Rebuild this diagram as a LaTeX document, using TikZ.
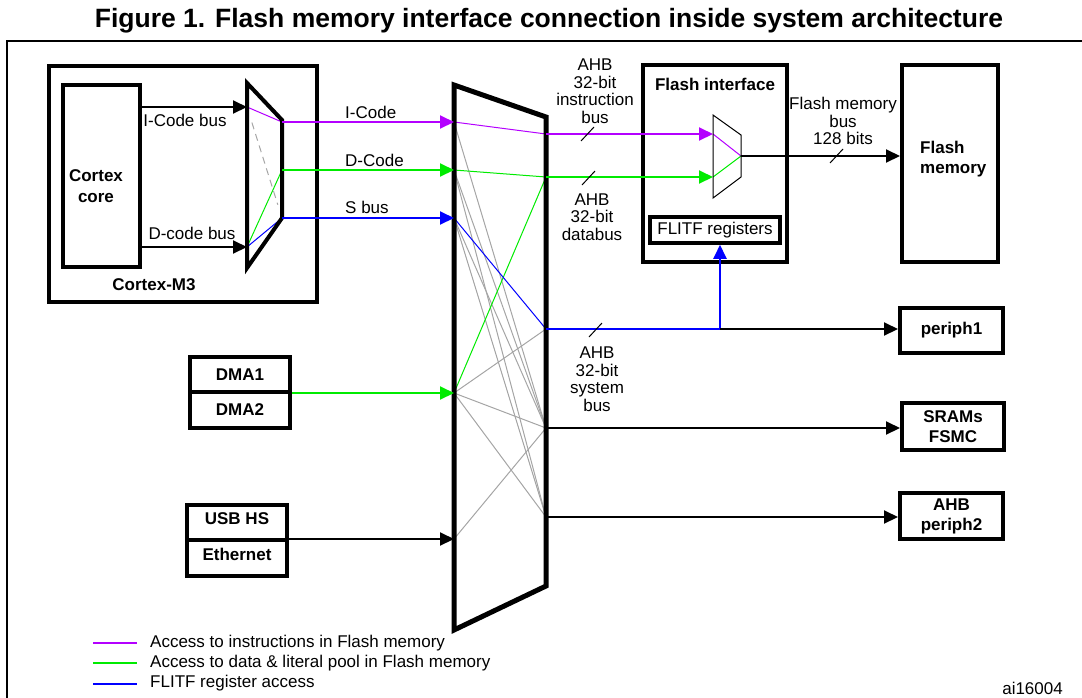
\documentclass[tikz,border=0pt]{standalone}
\usepackage{fontspec}
\setmainfont{Liberation Sans}
\usetikzlibrary{arrows.meta,calc}
\definecolor{ipurple}{RGB}{180,0,255}
\definecolor{dgreen}{RGB}{0,235,0}
\definecolor{fblue}{RGB}{0,0,255}
\definecolor{xgray}{RGB}{165,165,165}
\begin{document}
\begin{tikzpicture}[x=1pt,y=-1pt,
  lbl/.style={font=\fontsize{17}{17.5}\selectfont, inner sep=0pt, align=center},
  blbl/.style={font=\fontsize{17}{20.5}\selectfont\bfseries, inner sep=0pt, align=center},
  box/.style={draw, line width=4pt, inner sep=0pt, font=\fontsize{17}{20}\selectfont\bfseries, align=center},
  tip/.style={-{Triangle[length=14pt,width=13pt]}},
  bus/.style={line width=2pt, tip},
  thin/.style={line width=1pt},
  slash/.style={line width=1pt}]
\useasboundingbox (0,0) rectangle (1082,697);
% frame and title
\draw[line width=2pt] (7,700) -- (7,41) -- (1090,41);
\node[font=\fontsize{26.5}{30}\selectfont\bfseries, inner sep=0pt] (title) at (549,21) {Figure 1. Flash memory interface connection inside system architecture};

% ---- Cortex-M3 ----
\node[box, minimum width=268pt, minimum height=236pt] (cm3) at (183,184) {};
\node[blbl] (cm3lbl) at (154,285) {Cortex-M3};
\node[box, minimum width=77pt, minimum height=182pt] (core) at (101.5,176) {};
\node[blbl] (corelbl) at (96,186) {Cortex\\core};
% inner mux ports
\coordinate (ci1) at (247,107);
\coordinate (ci2) at (247,247);
\coordinate (co1) at (282,122);
\coordinate (co2) at (282,170);
\coordinate (co3) at (282,218);
\draw[thin, ipurple] (ci1) -- (co1);
\draw[thin, dgreen] (ci2) -- (co2);
\draw[thin, fblue] (ci2) -- (co3);
\draw[thin, xgray, dash pattern=on 7pt off 5pt] ($(ci1)!0.14!(co3)$) -- ($(ci1)!0.88!(co3)$);
\draw[line width=4pt, line join=miter] (247,83) -- (282,120) -- (282,218) -- (247,268) -- cycle;
\draw[bus] (ci1 -| core.east) -- (ci1);
\draw[bus] (ci2 -| core.east) -- (ci2);
\node[lbl, anchor=north] (icbl) at (185,114) {I-Code bus};
\node[lbl, anchor=south] (dcbl) at (192,240) {D-code bus};

% ---- Bus matrix ports ----
\coordinate (mi1) at (454,122);
\coordinate (mi2) at (454,170);
\coordinate (mi3) at (454,218);
\coordinate (mi4) at (454,393);
\coordinate (mi5) at (454,539);
\coordinate (mo1) at (546,134);
\coordinate (mo2) at (546,177);
\coordinate (mo3) at (546,329);
\coordinate (mo4) at (546,428);
\coordinate (mo5) at (546,517);
% gray crossbar lines
\begin{scope}[thin, xgray]
\draw (mi1) -- (mo4);
\draw (mi2) -- (mo4);
\draw (mi2) -- (mo5);
\draw (mi3) -- (mo4);
\draw (mi3) -- (mo5);
\draw (mi4) -- (mo3);
\draw (mi4) -- (mo4);
\draw (mi4) -- (mo5);
\draw (mi5) -- (mo4);
\end{scope}
\draw[thin, ipurple] (mi1) -- (mo1);
\draw[thin, dgreen] (mi2) -- (mo2);
\draw[thin, dgreen] (mi4) -- (mo2);
\draw[thin, fblue] (mi3) -- (mo3);
\draw[line width=5pt, line join=miter] (454,85) -- (546,117) -- (546,586) -- (454,630) -- cycle;

% buses into matrix
\draw[bus, ipurple] (co1) -- (mi1);
\draw[bus, dgreen] (co2) -- (mi2);
\draw[bus, fblue] (co3) -- (mi3);
\node[lbl, anchor=west] (iclbl) at (345,112) {I-Code};
\node[lbl, anchor=west] (dclbl) at (345,160) {D-Code};
\node[lbl, anchor=west] (sblbl) at (345,207) {S bus};

% ---- masters ----
\node[box, minimum width=100pt, minimum height=35pt] (dma1) at (240,374.5) {DMA1};
\node[box, minimum width=100pt, minimum height=36pt] (dma2) at (240,410) {DMA2};
\node[box, minimum width=100pt, minimum height=35pt] (usb) at (237,522.5) {\raisebox{7pt}{USB HS}};
\node[box, minimum width=100pt, minimum height=36pt] (eth) at (237,558) {\raisebox{7pt}{Ethernet}};
\draw[bus, dgreen] (mi4 -| dma1.east) -- (mi4);
\draw[bus] (mi5 -| usb.east) -- (mi5);

% ---- Flash interface ----
\node[box, minimum width=144pt, minimum height=197pt] (fi) at (715,163.5) {};
\node[blbl] (filbl) at (715,84) {Flash interface};
\node[draw, line width=3.5pt, inner sep=0pt, minimum width=130pt, minimum height=26pt, font=\fontsize{17}{19}\selectfont] (flitf) at (715,230) {FLITF registers};
\coordinate (fm1) at (713,134);
\coordinate (fm2) at (713,177);
\coordinate (fmo) at (741,156);
\draw[thin, ipurple] (fm1) -- (fmo);
\draw[thin, dgreen] (fm2) -- (fmo);
\draw[thin] (713,115) -- (741,135) -- (741,177) -- (713,198) -- cycle;
\draw[bus, ipurple] (mo1) -- (fm1);
\draw[bus, dgreen] (mo2) -- (fm2);
\draw[slash] (581,141) -- (594,127);
\draw[slash] (582,185) -- (595,171);
\node[lbl] (ibuslbl) at (595,91) {AHB\\32-bit\\instruction\\bus};
\node[lbl] (dbuslbl) at (592,217) {AHB\\32-bit\\databus};

% ---- Flash memory ----
\node[box, minimum width=96pt, minimum height=197pt] (fmem) at (950,163.5) {};
\node[blbl, align=left, anchor=west] (fmemlbl) at (920,159) {Flash\\memory};
\draw[bus] (fmo) -- (fmo -| fmem.west);
\draw[slash] (830,163) -- (843,149);
\node[lbl] (fbuslbl) at (843,121) {Flash memory\\bus\\128 bits};

% ---- system bus and slaves ----
\node[box, minimum width=103pt, minimum height=45pt] (p1) at (951.5,330.5) {periph1};
\node[box, minimum width=102pt, minimum height=47pt] (sram) at (953,426.5) {SRAMs\\FSMC};
\node[box, minimum width=103pt, minimum height=46pt] (p2) at (951.5,516) {AHB\\periph2};
\coordinate (sysj) at (720,329);
\draw[line width=2pt, fblue] (mo3) -- (sysj);
\draw[bus, fblue] (sysj) -- (flitf.south -| sysj);
\draw[bus] (sysj) -- (sysj -| p1.west);
\draw[bus] (mo4) -- (mo4 -| sram.west);
\draw[bus] (mo5) -- (mo5 -| p2.west);
\draw[slash] (589,337) -- (602,323);
\node[lbl] (sbuslbl) at (597,379) {AHB\\32-bit\\system\\bus};

% ---- legend ----
\coordinate (lg1a) at (93,643); \coordinate (lg1b) at (137,643);
\coordinate (lg2a) at (93,663); \coordinate (lg2b) at (137,663);
\coordinate (lg3a) at (93,684); \coordinate (lg3b) at (137,684);
\draw[line width=2pt, ipurple] (lg1a) -- (lg1b);
\draw[line width=2pt, dgreen] (lg2a) -- (lg2b);
\draw[line width=2pt, fblue] (lg3a) -- (lg3b);
\node[lbl, anchor=west] (lgt1) at (150,643) {Access to instructions in Flash memory};
\node[lbl, anchor=west] (lgt2) at (150,663) {Access to data \& literal pool in Flash memory};
\node[lbl, anchor=west] (lgt3) at (150,683) {FLITF register access};
\node[lbl, anchor=east] (ai) at (1063,688) {ai16004};
\end{tikzpicture}
\end{document}
